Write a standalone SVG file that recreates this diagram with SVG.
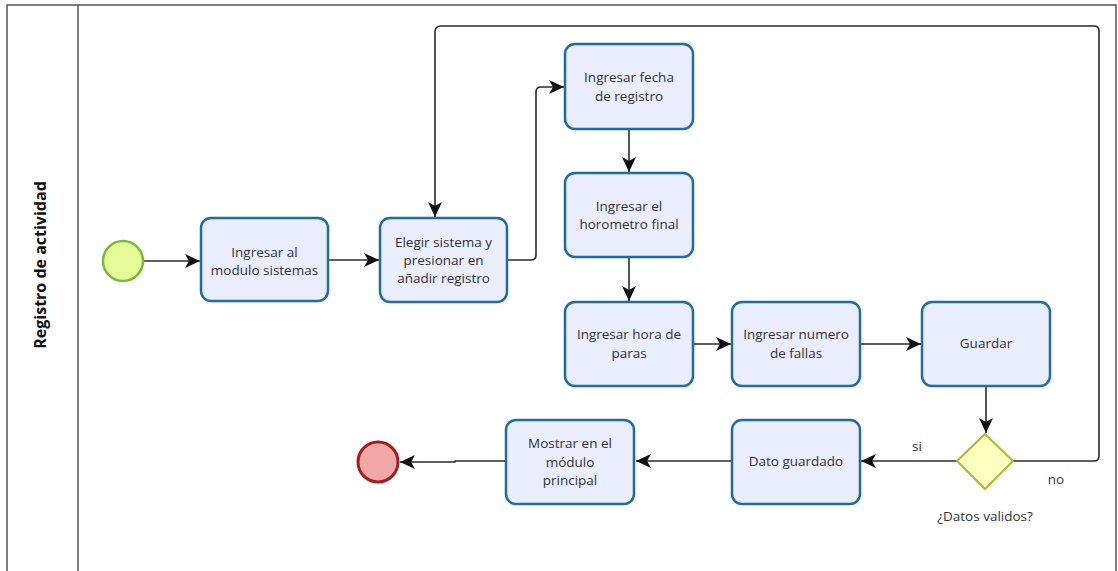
<svg xmlns="http://www.w3.org/2000/svg" width="1118" height="571" viewBox="0 0 1118 571">
<defs>
<marker id="arr" markerUnits="userSpaceOnUse" markerWidth="16" markerHeight="16" viewBox="0 0 16 16" refX="15" refY="8" orient="auto">
<path d="M0,1 L15,8 L0,15 L4,8 Z" fill="#111"/>
</marker>
<style>
.task{fill:#e9edfc;stroke:#1f6e9c;stroke-width:2.5}
.t{font-family:"Open Sans","Liberation Sans",sans-serif;font-size:13.5px;fill:#333;text-anchor:middle}
.c{fill:none;stroke:#2a2a2a;stroke-width:1.6;stroke-linejoin:round}
</style>
</defs>
<rect x="0" y="0" width="1118" height="571" fill="#fff"/>
<g id="pool">
<rect x="7" y="5" width="1109" height="575" fill="none" stroke="#555" stroke-width="1.5"/>
<line x1="78" y1="5" x2="78" y2="571" stroke="#555" stroke-width="1.5"/>
<text x="40" y="271" transform="rotate(-90 40 265)" font-family="'Open Sans','Liberation Sans',sans-serif" font-weight="bold" font-size="16" fill="#111" text-anchor="middle">Registro de actividad</text>
</g>
<g id="connectors">
<path class="c" d="M143,261 L200,261" marker-end="url(#arr)"/>
<path class="c" d="M328,260 L379,260" marker-end="url(#arr)"/>
<path class="c" d="M507,260 L531,260 Q536,260 536,255 L536,92 Q536,87 541,87 L564,87" marker-end="url(#arr)"/>
<path class="c" d="M629,129 L629,172" marker-end="url(#arr)"/>
<path class="c" d="M629,257 L629,301" marker-end="url(#arr)"/>
<path class="c" d="M693,344 L731,344" marker-end="url(#arr)"/>
<path class="c" d="M860,344 L921,344" marker-end="url(#arr)"/>
<path class="c" d="M986,386 L986,433" marker-end="url(#arr)"/>
<path class="c" d="M957,461 L861,461" marker-end="url(#arr)"/>
<path class="c" d="M1013,461 L1094,461 Q1099,461 1099,456 L1099,31 Q1099,26 1094,26 L441,26 Q435,26 435,32 L435,217" marker-end="url(#arr)"/>
<path class="c" d="M732,461 L636,461" marker-end="url(#arr)"/>
<path class="c" d="M506,461 L455,461 L455,462 L400,462" marker-end="url(#arr)"/>
</g>
<g id="start"><circle cx="123" cy="261" r="20" fill="#e4fb98" stroke="#7cb83a" stroke-width="2.5"/></g>
<g id="task1"><rect class="task" x="201" y="218" width="127" height="83" rx="10"/>
<text class="t" x="264.5" y="256.5">Ingresar al</text><text class="t" x="264.5" y="275">modulo sistemas</text></g>
<g id="task2"><rect class="task" x="380" y="218" width="127" height="84" rx="10"/>
<text class="t" x="443.5" y="246.5">Elegir sistema y</text><text class="t" x="443.5" y="265">presionar en</text><text class="t" x="443.5" y="283">añadir registro</text></g>
<g id="task3"><rect class="task" x="565" y="44" width="128" height="85" rx="10"/>
<text class="t" x="629" y="82">Ingresar fecha</text><text class="t" x="629" y="100.5">de registro</text></g>
<g id="task4"><rect class="task" x="565" y="173" width="128" height="84" rx="10"/>
<text class="t" x="629" y="210.5">Ingresar el</text><text class="t" x="629" y="229">horometro final</text></g>
<g id="task5"><rect class="task" x="565" y="302" width="128" height="84" rx="10"/>
<text class="t" x="629" y="339">Ingresar hora de</text><text class="t" x="629" y="357.5">paras</text></g>
<g id="task6"><rect class="task" x="732" y="302" width="128" height="84" rx="10"/>
<text class="t" x="796" y="339">Ingresar numero</text><text class="t" x="796" y="357.5">de fallas</text></g>
<g id="task7"><rect class="task" x="922" y="302" width="128" height="84" rx="10"/>
<text class="t" x="986" y="348">Guardar</text></g>
<g id="gateway"><path d="M985,434 L1013,461 L985,489 L957,461 Z" fill="#ffffc2" stroke="#b4b435" stroke-width="2"/>
<text class="t" x="985" y="521">¿Datos validos?</text>
<text class="t" x="917" y="451">si</text>
<text class="t" x="1056" y="484">no</text></g>
<g id="task8"><rect class="task" x="732" y="420" width="128" height="84" rx="10"/>
<text class="t" x="796" y="466">Dato guardado</text></g>
<g id="task9"><rect class="task" x="506" y="420" width="128" height="84" rx="10"/>
<text class="t" x="570" y="448">Mostrar en el</text><text class="t" x="570" y="466.5">módulo</text><text class="t" x="570" y="485">principal</text></g>
<g id="end"><circle cx="378" cy="462" r="20" fill="#efa7a7" stroke="#a51d1d" stroke-width="3"/></g>
</svg>
